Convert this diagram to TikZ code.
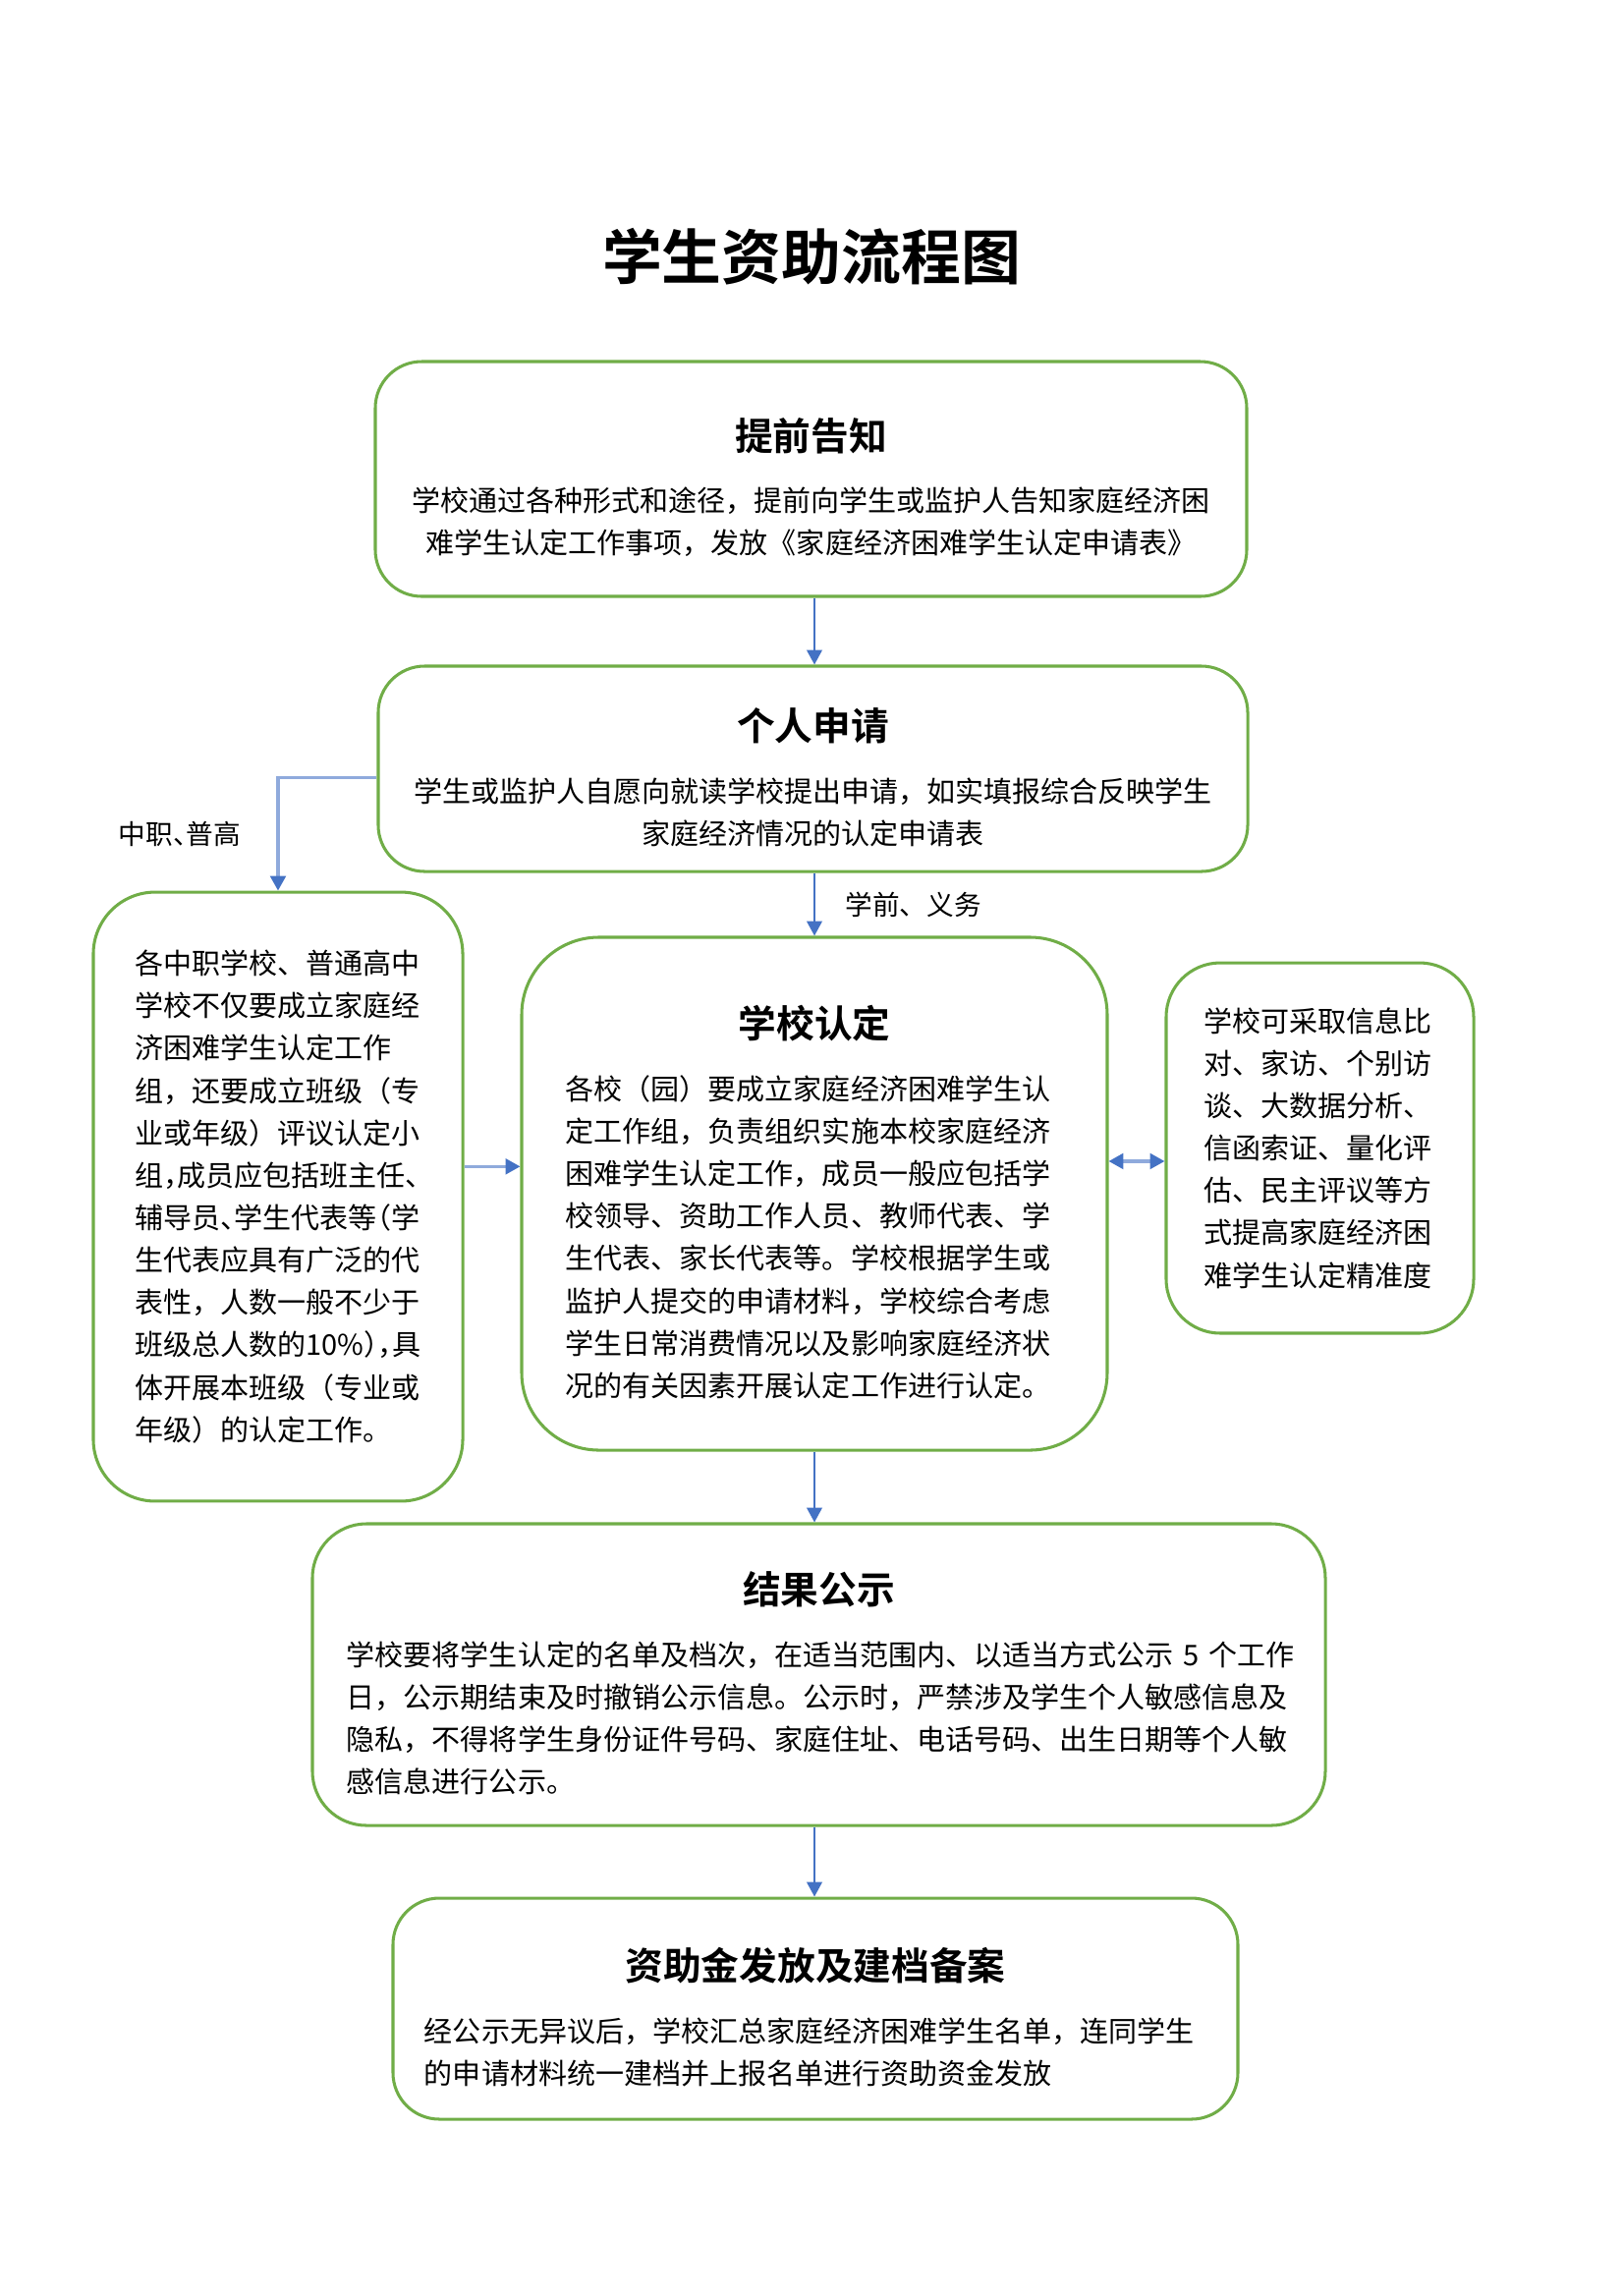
\documentclass[tikz,border=0pt]{standalone}
\usepackage{fontspec}
\setmainfont{Noto Sans CJK SC}[BoldFont={Noto Sans CJK SC Bold}]
\usepackage{tikz}
\usetikzlibrary{arrows.meta}

\definecolor{boxgreen}{HTML}{70AD47}
\definecolor{flowblue}{HTML}{4472C4}
\definecolor{linkblue}{HTML}{8FAADC}

% half width punctuation
\newcommand{\hwl}[1]{\makebox[0.5em][l]{#1}}
\newcommand{\hwr}[1]{\makebox[0.5em][r]{#1}}
\newcommand{\boxhead}[1]{{\centering\fontsize{14pt}{17pt}\selectfont\bfseries\raisebox{-2.2mm}[\height][\depth]{#1}\par}\vspace{13.3pt}}

\begin{document}
\begin{tikzpicture}[x=0.127118mm, y=-0.127118mm,
	stepbox/.style={draw=boxgreen, line width=1.1pt, fill=white, align=left,
		font=\fontsize{10.5pt}{15.6pt}\selectfont},
	>={Triangle[length=1.9mm, width=2mm, color=flowblue]},
	flow/.style={draw=flowblue, line width=0.7pt, ->},
	link/.style={draw=linkblue, line width=1.1pt, ->},
	note/.style={inner sep=0pt, font=\fontsize{10pt}{12pt}\selectfont}]

		\useasboundingbox (0,0) rectangle (1652,2337);

		% >>> title
		\node[font=\fontsize{22pt}{26pt}\selectfont\bfseries] (title) at (826,261) {学生资助流程图};
		% <<< title

		% >>> boxes
		\node[stepbox, align=center, text width=106mm, minimum width=112.75mm, minimum height=30.38mm, rounded corners=6mm] (notice) at (825.5,487.5)
			{\boxhead{提前告知}学校通过各种形式和途径，提前向学生或监护人告知家庭经济困\\难学生认定工作事项，发放《家庭经济困难学生认定申请表》};
		\node[stepbox, align=center, text width=106mm, minimum width=112.5mm, minimum height=26.57mm, rounded corners=6mm] (apply) at (827.5,782.5)
			{\boxhead{个人申请}学生或监护人自愿向就读学校提出申请，如实填报综合反映学生\\家庭经济情况的认定申请表};
		\node[stepbox, text width=37.1mm, minimum width=47.8mm, minimum height=78.8mm, rounded corners=8mm] (vocational) at (283,1218)
			{各中职学校、普通高中\\学校不仅要成立家庭经\\济困难学生认定工作\\组，还要成立班级（专\\业或年级）评议认定小\\组\hwl{，}成员应包括班主任、\\辅导员\hwl{、}学生代表等\hwr{（}学\\生代表应具有广泛的代\\表性，人数一般不少于\\班级总人数的10\%\hwl{）}\hwl{，}具\\体开展本班级（专业或\\年级）的认定工作。};
		\node[stepbox, text width=64.4mm, minimum width=75.76mm, minimum height=66.36mm, rounded corners=10mm] (review) at (829,1215)
			{\boxhead{学校认定}各校（园）要成立家庭经济困难学生认\\定工作组，负责组织实施本校家庭经济\\困难学生认定工作，成员一般应包括学\\校领导、资助工作人员、教师代表、学\\生代表、家长代表等。学校根据学生或\\监护人提交的申请材料，学校综合考虑\\学生日常消费情况以及影响家庭经济状\\况的有关因素开展认定工作进行认定。};
		\node[stepbox, text width=30mm, minimum width=39.79mm, minimum height=47.92mm, rounded corners=7mm] (methods) at (1343.5,1168.5)
			{学校可采取信息比\\对、家访、个别访\\谈、大数据分析、\\信函索证、量化评\\估、民主评议等方\\式提高家庭经济困\\难学生认定精准度};
		\node[stepbox, text width=122.2mm, minimum width=131.06mm, minimum height=39.03mm, rounded corners=7mm] (publicity) at (833.5,1704.5)
			{\boxhead{结果公示}学校要将学生认定的名单及档次，在适当范围内、以适当方式公示~5~个工作\\日，公示期结束及时撤销公示信息。公示时，严禁涉及学生个人敏感信息及\\隐私，不得将学生身份证件号码、家庭住址、电话号码、出生日期等个人敏\\感信息进行公示。};
		\node[stepbox, text width=101.2mm, minimum width=109.32mm, minimum height=28.6mm, rounded corners=6mm] (funding) at (830,2044.5)
			{\boxhead{资助金发放及建档备案}经公示无异议后，学校汇总家庭经济困难学生名单，连同学生\\的申请材料统一建档并上报名单进行资助资金发放};
		% <<< boxes

		% >>> arrows
		\coordinate (spine) at (829,0);
		\draw[flow] (notice.south -| spine) -- (apply.north -| spine);
		\draw[flow] (apply.south -| spine) -- node[note, right=3.9mm] (basiclabel) {学前、义务} (review.north -| spine);
		\draw[link] ([yshift=-1.2mm]apply.west) -| node[note, pos=0.75, left=4.6mm] (vocationallabel) {中职\hwl{、}普高} (vocational.north);
		\draw[link] ([yshift=3.9mm]vocational.east) -- ([yshift=3.9mm]vocational.east -| review.west);
		\draw[link, <->] ([yshift=4.2mm]review.east) -- ([yshift=4.2mm]review.east -| methods.west);
		\draw[flow] (review.south -| spine) -- (publicity.north -| spine);
		\draw[flow] (publicity.south -| spine) -- (funding.north -| spine);
		% <<< arrows

	\end{tikzpicture}
\end{document}
